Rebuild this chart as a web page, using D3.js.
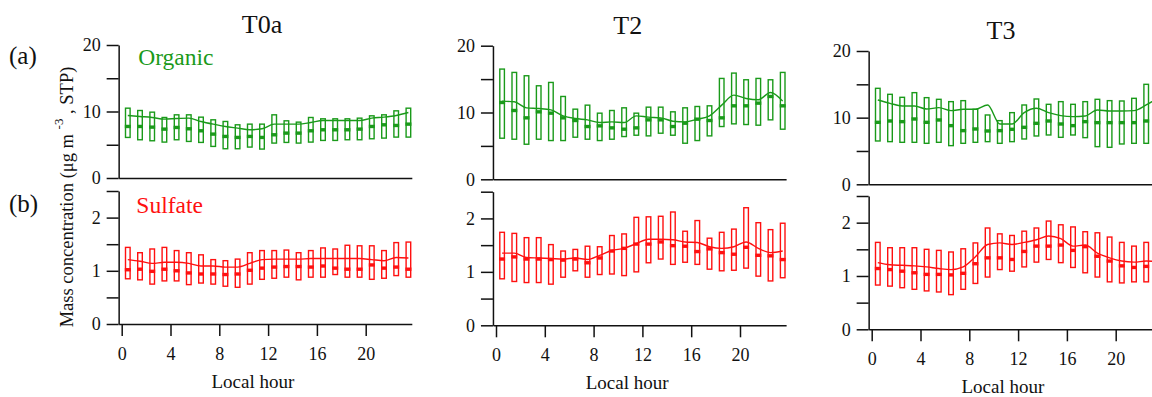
<!DOCTYPE html>
<html>
<head>
<meta charset="utf-8">
<script src="https://cdn.jsdelivr.net/npm/d3@7"></script>
<style>
  html, body { margin: 0; padding: 0; background: #fff; }
  svg { display: block; }
  text { font-family: "Liberation Serif", "Times New Roman", serif; }
</style>
</head>
<body>
<svg id="chart" width="1152" height="397"></svg>
<script>
// ---------------- DATA ----------------
const hours = [0.5,1.5,2.5,3.5,4.5,5.5,6.5,7.5,8.5,9.5,10.5,11.5,12.5,13.5,14.5,15.5,16.5,17.5,18.5,19.5,20.5,21.5,22.5,23.5];
const panelNames = ["T0a", "T2", "T3"];
const speciesNames = ["Organic", "Sulfate"];
const orgTicks = [0, 5, 10, 15, 20];
const orgTickLabels = [0, 10, 20];
const so4Ticks = [0, 0.5, 1, 1.5, 2, 2.5];
const so4TickLabels = [0, 1, 2];
const hourTicks = [0, 4, 8, 12, 16, 20];

// T0a Organic
const t0aOrgQ75  = [10.5,10.15,9.9,9.1,9.5,9.5,9.15,8.75,8.5,8.0,8.1,8.1,9.5,8.6,8.4,9.1,8.9,8.9,8.9,9.0,9.35,9.5,10.1,10.5];
const t0aOrgQ25  = [6.1,5.75,5.6,5.4,5.75,5.5,5.35,4.75,4.4,4.4,4.65,4.35,5.25,5.35,5.25,5.4,5.65,5.65,5.75,5.75,5.9,6.0,6.15,6.15];
const t0aOrgMed  = [7.75,7.75,7.65,7.35,7.6,7.4,7.1,6.6,6.25,6.1,6.25,6.1,6.5,6.75,6.75,7.1,7.25,7.25,7.25,7.35,7.75,8.0,7.9,8.1];
const t0aOrgMean = [9.4,9.25,9.1,8.85,8.95,9.0,8.5,8.1,7.75,7.5,7.25,7.4,8.1,8.1,8.1,8.35,8.65,8.65,8.65,8.65,9.0,9.15,9.4,9.85];
// T0a Sulfate
const t0aSo4Q75  = [1.44,1.34,1.41,1.44,1.38,1.34,1.30,1.21,1.19,1.22,1.34,1.38,1.38,1.39,1.34,1.38,1.43,1.41,1.48,1.47,1.47,1.38,1.53,1.54];
const t0aSo4Q25  = [0.85,0.83,0.75,0.81,0.81,0.74,0.77,0.75,0.71,0.69,0.75,0.84,0.86,0.88,0.83,0.88,0.88,0.93,0.88,0.88,0.84,0.86,0.91,0.88];
const t0aSo4Med  = [1.02,1.03,0.99,1.03,1.00,0.96,0.94,0.94,0.93,0.94,1.01,1.05,1.07,1.08,1.08,1.07,1.09,1.05,1.03,1.03,1.11,1.05,1.07,1.03];
const t0aSo4Mean = [1.21,1.18,1.14,1.16,1.16,1.14,1.09,1.09,1.07,1.07,1.14,1.21,1.22,1.22,1.22,1.23,1.23,1.23,1.23,1.23,1.21,1.19,1.25,1.24];
// T2 Organic
const t2OrgQ75  = [16.5,16.0,15.5,14.0,14.5,12.4,10.5,11.1,9.9,10.3,10.7,9.9,10.8,10.8,10.1,10.7,10.9,11.0,15.1,15.9,14.9,15.1,14.9,16.0];
const t2OrgQ25  = [6.15,6.0,5.25,6.0,5.8,5.8,6.3,6.0,5.8,6.0,6.4,6.6,6.5,6.9,6.6,5.4,5.8,6.5,7.9,8.3,8.2,8.1,8.9,7.5];
const t2OrgMed  = [11.5,10.3,9.2,10.1,9.9,9.2,8.8,7.9,8.0,7.7,7.5,7.7,8.9,8.9,7.9,8.4,9.0,8.8,9.2,11.0,11.0,11.4,12.4,11.0];
const t2OrgMean = [11.7,11.6,10.7,10.6,10.4,9.5,9.1,8.9,8.5,8.6,8.5,9.5,9.3,9.2,8.7,8.6,9.0,9.5,11.1,12.6,12.1,11.9,13.0,11.7];
// T2 Sulfate
const t2So4Q75  = [1.74,1.72,1.64,1.64,1.51,1.39,1.42,1.48,1.47,1.68,1.71,2.02,2.03,2.04,2.12,1.76,1.96,1.63,1.74,1.80,2.20,1.92,1.79,1.91];
const t2So4Q25  = [0.87,0.82,0.80,0.80,0.77,0.90,1.02,0.90,0.95,0.96,0.93,1.00,1.17,1.24,1.14,1.18,1.14,1.05,1.02,1.03,1.07,0.92,0.83,0.89];
const t2So4Med  = [1.24,1.28,1.24,1.24,1.23,1.22,1.24,1.17,1.26,1.39,1.44,1.52,1.52,1.56,1.49,1.48,1.38,1.43,1.36,1.33,1.46,1.31,1.30,1.23];
const t2So4Mean = [1.35,1.35,1.27,1.26,1.25,1.24,1.26,1.23,1.31,1.40,1.44,1.53,1.61,1.61,1.60,1.56,1.55,1.47,1.44,1.47,1.56,1.44,1.36,1.39];
// T3 Organic
const t3OrgQ75  = [14.4,13.5,13.05,13.75,13.0,12.75,12.4,12.55,11.25,10.4,9.55,10.75,11.9,12.8,12.0,12.4,12.0,12.4,12.75,12.55,12.5,12.9,15.0,15.0];
const t3OrgQ25  = [6.5,6.4,6.3,6.3,6.15,6.3,5.8,6.15,6.3,6.4,6.15,6.4,6.8,7.25,7.4,7.05,7.4,7.0,5.65,5.55,6.05,6.15,6.15,6.5];
const t3OrgMed  = [9.3,9.5,9.4,9.8,9.3,9.65,8.8,8.05,8.3,8.0,8.05,8.25,8.55,9.15,9.5,9.05,8.8,9.4,9.25,9.25,9.25,9.25,9.5,9.5];
const t3OrgMean = [12.65,12.15,11.75,11.75,11.3,11.5,11.05,11.25,11.25,11.9,9.05,9.05,10.75,11.4,10.75,10.3,10.15,10.25,11.15,11.0,11.0,11.05,11.9,13.0];
// T3 Sulfate
const t3So4Q75  = [1.63,1.53,1.53,1.53,1.50,1.48,1.45,1.51,1.62,1.90,1.79,1.76,1.84,1.90,2.03,1.96,1.92,1.83,1.81,1.73,1.63,1.56,1.63,1.60];
const t3So4Q25  = [0.83,0.81,0.78,0.75,0.72,0.70,0.65,0.75,0.86,0.98,1.12,1.09,1.17,1.26,1.31,1.25,1.16,1.06,0.98,0.89,0.87,0.89,0.89,0.90];
const t3So4Med  = [1.14,1.12,1.09,1.06,1.03,1.03,1.02,1.05,1.23,1.34,1.34,1.31,1.46,1.56,1.56,1.58,1.48,1.55,1.37,1.28,1.19,1.16,1.18,1.18];
const t3So4Mean = [1.25,1.21,1.20,1.19,1.17,1.14,1.12,1.17,1.36,1.59,1.62,1.59,1.63,1.68,1.75,1.70,1.56,1.58,1.43,1.34,1.28,1.26,1.28,1.27];

// ---------------- STYLE / LAYOUT ----------------
const GREEN = "#1a9a1a";
const RED = "#ff1010";
const hourPx = 12.2;
const layout = [
  { name: "T0a", h0: 121.7, orgTop: 45.0, orgBot: 178.0, so4Top: 191.0, so4Bot: 324.0, titleHour: 11.5 },
  { name: "T2",  h0: 496.0, orgTop: 45.7, orgBot: 179.3, so4Top: 191.7, so4Bot: 325.3, titleHour: 10.8 },
  { name: "T3",  h0: 871.7, orgTop: 51.0, orgBot: 184.3, so4Top: 196.0, so4Bot: 329.3, titleHour: 10.6 }
];
const seriesByPanel = {
  "T0a": { org: [t0aOrgQ75, t0aOrgQ25, t0aOrgMed, t0aOrgMean], so4: [t0aSo4Q75, t0aSo4Q25, t0aSo4Med, t0aSo4Mean] },
  "T2":  { org: [t2OrgQ75, t2OrgQ25, t2OrgMed, t2OrgMean],     so4: [t2So4Q75, t2So4Q25, t2So4Med, t2So4Mean] },
  "T3":  { org: [t3OrgQ75, t3OrgQ25, t3OrgMed, t3OrgMean],     so4: [t3So4Q75, t3So4Q25, t3So4Med, t3So4Mean] }
};

const svg = d3.select("#chart");
const boxW = 4.6, medH = 3.4;
const xMin = -0.25, xMax = 23.78;

function drawSeries(g, x, y, arrs, color) {
  const [q75, q25, med, mean] = arrs;
  const rows = hours.map((h, i) => ({ h, q75: q75[i], q25: q25[i], med: med[i], mean: mean[i] }));
  g.append("g").selectAll("rect").data(rows).join("rect")
    .attr("x", d => x(d.h) - boxW / 2)
    .attr("y", d => y(d.q75))
    .attr("width", boxW)
    .attr("height", d => y(d.q25) - y(d.q75))
    .attr("fill", "none").attr("stroke", color).attr("stroke-width", 1.4);
  g.append("g").selectAll("rect").data(rows).join("rect")
    .attr("x", d => x(d.h) - (boxW + 1.4) / 2)
    .attr("y", d => y(d.med) - medH / 2)
    .attr("width", boxW + 1.4)
    .attr("height", medH)
    .attr("fill", color);
  g.append("path").datum(rows)
    .attr("fill", "none").attr("stroke", color).attr("stroke-width", 1.4)
    .attr("d", d3.line().x(d => x(d.h)).y(d => y(d.mean)).curve(d3.curveMonotoneX));
}

function styleAxis(ax) {
  ax.attr("font-family", null);
  ax.selectAll("path, line").attr("stroke", "#111").attr("stroke-width", 1.5);
  ax.selectAll("text").attr("font-size", 18).attr("fill", "#111");
}

layout.forEach(p => {
  const x = d3.scaleLinear().domain([xMin, xMax])
    .range([p.h0 + xMin * hourPx, p.h0 + xMax * hourPx]);
  const yOrg = d3.scaleLinear().domain([0, 20]).range([p.orgBot, p.orgTop]);
  const ySo4 = d3.scaleLinear().domain([0, 2.5]).range([p.so4Bot, p.so4Top]);
  const g = svg.append("g");

  // title
  g.append("text").attr("x", x(p.titleHour)).attr("y", p.orgTop - 12)
    .attr("text-anchor", "middle").attr("font-size", 26).attr("fill", "#111").text(p.name);

  // axes: organic
  const axOrgY = g.append("g").attr("transform", `translate(${x(xMin)},0)`)
    .call(d3.axisLeft(yOrg).tickValues(orgTicks).tickSize(12).tickSizeOuter(0).tickPadding(6)
      .tickFormat(d => orgTickLabels.includes(d) ? d3.format("d")(d) : ""));
  styleAxis(axOrgY);
  const axOrgX = g.append("g").attr("transform", `translate(0,${p.orgBot})`)
    .call(d3.axisBottom(x).tickValues([]).tickSizeOuter(0));
  styleAxis(axOrgX);

  // axes: sulfate
  const axSo4Y = g.append("g").attr("transform", `translate(${x(xMin)},0)`)
    .call(d3.axisLeft(ySo4).tickValues(so4Ticks).tickSize(12).tickSizeOuter(0).tickPadding(6)
      .tickFormat(d => so4TickLabels.includes(d) ? d3.format("d")(d) : ""));
  styleAxis(axSo4Y);
  const axSo4X = g.append("g").attr("transform", `translate(0,${p.so4Bot})`)
    .call(d3.axisBottom(x).tickValues(hourTicks).tickSize(12).tickSizeOuter(0).tickPadding(11));
  styleAxis(axSo4X);

  g.append("text").attr("x", x(10.75)).attr("y", p.so4Bot + 64)
    .attr("text-anchor", "middle").attr("font-size", 19).attr("fill", "#111").text("Local hour");

  drawSeries(g.append("g"), x, yOrg, seriesByPanel[p.name].org, GREEN);
  drawSeries(g.append("g"), x, ySo4, seriesByPanel[p.name].so4, RED);

  if (p.name === "T0a") {
    g.append("text").attr("x", x(1.35)).attr("y", p.orgTop + 20)
      .attr("font-size", 23.5).attr("fill", GREEN).text(speciesNames[0]);
    g.append("text").attr("x", x(1.2)).attr("y", p.so4Top + 22)
      .attr("font-size", 23.5).attr("fill", RED).text(speciesNames[1]);
  }
});

// panel letters
svg.append("text").attr("x", 9).attr("y", 64).attr("font-size", 25).attr("fill", "#111").text("(a)");
svg.append("text").attr("x", 9).attr("y", 212).attr("font-size", 25).attr("fill", "#111").text("(b)");

// y label
const yl = svg.append("text")
  .attr("transform", "translate(73,197) rotate(-90)")
  .attr("text-anchor", "middle").attr("font-size", 18.5).attr("fill", "#111");
yl.append("tspan").text("Mass concentration (μg m ");
yl.append("tspan").attr("font-size", 13).attr("dy", -10).text("-3");
yl.append("tspan").attr("dy", 10).text(" , STP)");
</script>
</body>
</html>
